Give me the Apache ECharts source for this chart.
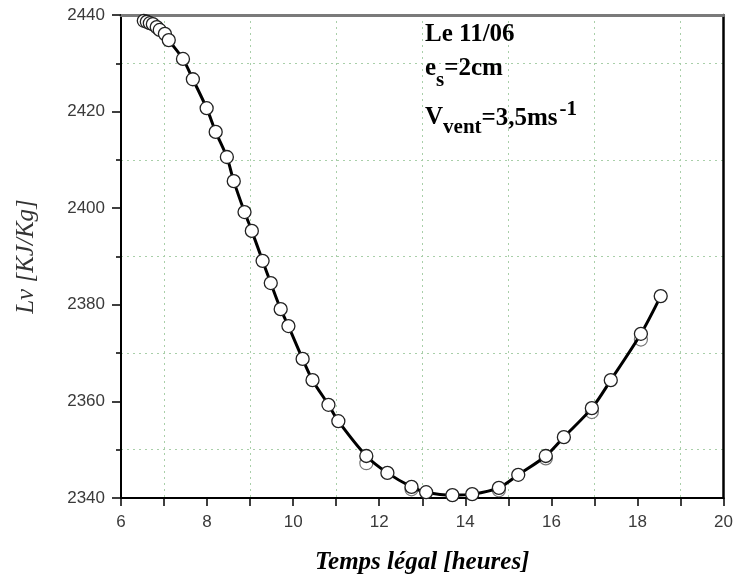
<!DOCTYPE html>
<html>
<head>
<meta charset="utf-8">
<script src="https://cdn.jsdelivr.net/npm/echarts@6/dist/echarts.min.js"></script>
<style>
html,body{margin:0;padding:0;background:#fff;}
#chart{width:736px;height:582px;}
</style>
</head>
<body>
<div id="chart"></div>
<script>
// ---- data ----
const timeHours = [6.53, 6.60, 6.67, 6.74, 6.83, 6.90, 7.02, 7.11, 7.44, 7.67, 7.99, 8.20, 8.46, 8.62, 8.87, 9.04, 9.29, 9.48, 9.71, 9.89, 10.22, 10.45, 10.82, 11.05, 11.70, 12.19, 12.75, 13.09, 13.70, 14.16, 14.78, 15.23, 15.87, 16.29, 16.94, 17.38, 18.08, 18.54];
const lvValues  = [2438.8, 2438.6, 2438.3, 2438.1, 2437.5, 2436.9, 2436.1, 2434.8, 2430.9, 2426.7, 2420.7, 2415.8, 2410.6, 2405.6, 2399.2, 2395.3, 2389.1, 2384.5, 2379.1, 2375.6, 2368.8, 2364.4, 2359.3, 2355.9, 2348.7, 2345.2, 2342.3, 2341.2, 2340.6, 2340.8, 2342.1, 2344.8, 2348.7, 2352.6, 2358.6, 2364.4, 2374.0, 2381.8];
const extraTime = [11.70, 12.75, 14.78, 15.87, 16.94, 18.08];
const extraLv   = [2347.2, 2341.8, 2341.6, 2348.2, 2357.8, 2372.8];
const xTicks = {min: 6, max: 20, step: 2};
const yTicks = {min: 2340, max: 2440, step: 20};
const xTitle = 'Temps légal [heures]';
const yTitle = 'Lv [KJ/Kg]';
const note1 = 'Le 11/06';
const note2 = ['e', 's', '=2cm'];
const note3 = ['V', 'vent', '=3,5ms', '-1'];

const chart = echarts.init(document.getElementById('chart'));
const mainData = timeHours.map((t, i) => [t, lvValues[i]]);
const extraData = extraTime.map((t, i) => [t, extraLv[i]]);

// measure text for annotation layout
const cv = document.createElement('canvas').getContext('2d');
const SERIF = '"Liberation Serif", "DejaVu Serif", serif';
function tw(t, size) { cv.font = 'bold ' + size + 'px ' + SERIF; return cv.measureText(t).width; }
function txt(t, x, baseline, size) {
  return {
    type: 'text', z: 100,
    style: {
      text: t, x: x, y: baseline - 0.34 * size,
      font: 'bold ' + size + 'px ' + SERIF,
      fill: '#000', textAlign: 'left', textVerticalAlign: 'middle'
    }
  };
}
const BIG = 25, SMALL = 21, X0 = 425;
const graphics = [];
graphics.push(txt(note1, X0, 43, BIG));
let cx = X0;
graphics.push(txt(note2[0], cx, 77, BIG)); cx += tw(note2[0], BIG);
graphics.push(txt(note2[1], cx, 88, SMALL)); cx += tw(note2[1], SMALL);
graphics.push(txt(note2[2], cx, 77, BIG));
cx = X0;
graphics.push(txt(note3[0], cx, 126, BIG)); cx += tw(note3[0], BIG);
graphics.push(txt(note3[1], cx, 135, SMALL)); cx += tw(note3[1], SMALL);
graphics.push(txt(note3[2], cx, 127, BIG)); cx += tw(note3[2], BIG) + 2;
graphics.push(txt(note3[3], cx, 117, SMALL));

const gridColor = '#a9cfa9';
const labelStyle = {fontFamily: '"Liberation Sans", Arial, sans-serif', fontSize: 17, color: '#3a3a3a', formatter: v => String(v)};

chart.setOption({
  animation: false,
  backgroundColor: '#fff',
  grid: {left: 121, top: 15, width: 604, height: 483, containLabel: false},
  xAxis: [{
    type: 'value', min: xTicks.min, max: xTicks.max, interval: xTicks.step,
    position: 'bottom',
    axisLine: {show: true, onZero: false, lineStyle: {color: '#000', width: 2}},
    axisTick: {show: true, inside: false, length: 8, lineStyle: {color: '#000', width: 1.5}},
    minorTick: {show: true, splitNumber: 2, length: 8, lineStyle: {color: '#000', width: 1.5}},
    splitLine: {show: false},
    minorSplitLine: {show: true, lineStyle: {color: gridColor, type: [2, 4], width: 1}},
    axisLabel: Object.assign({margin: 16}, labelStyle),
    name: xTitle, nameLocation: 'middle', nameGap: 52,
    nameTextStyle: {fontFamily: SERIF, fontSize: 25, fontWeight: 'bold', fontStyle: 'italic', color: '#000'}
  }, {
    type: 'value', min: xTicks.min, max: xTicks.max, interval: xTicks.step,
    position: 'top',
    axisLine: {show: true, onZero: false, lineStyle: {color: '#7a7a7a', width: 3}},
    axisTick: {show: false}, axisLabel: {show: false}, splitLine: {show: false}
  }],
  yAxis: [{
    type: 'value', min: yTicks.min, max: yTicks.max, interval: yTicks.step,
    position: 'left',
    axisLine: {show: true, onZero: false, lineStyle: {color: '#000', width: 2}},
    axisTick: {show: true, inside: false, length: 9, lineStyle: {color: '#000', width: 1.5}},
    minorTick: {show: true, splitNumber: 2, length: 5, lineStyle: {color: '#000', width: 1.5}},
    splitLine: {show: false},
    minorSplitLine: {show: true, lineStyle: {color: gridColor, type: [2, 4], width: 1}},
    axisLabel: Object.assign({margin: 16}, labelStyle),
    name: yTitle, nameLocation: 'middle', nameGap: 82, nameRotate: 90,
    nameTextStyle: {fontFamily: SERIF, fontSize: 25, fontStyle: 'italic', color: '#333'}
  }, {
    type: 'value', min: yTicks.min, max: yTicks.max, interval: yTicks.step,
    position: 'right',
    axisLine: {show: true, onZero: false, lineStyle: {color: '#000', width: 2.5}},
    axisTick: {show: false}, axisLabel: {show: false}, splitLine: {show: false}
  }],
  series: [{
    type: 'line', xAxisIndex: 0, yAxisIndex: 0,
    data: mainData, smooth: 0.3,
    symbol: 'circle', symbolSize: 13, showAllSymbol: true,
    lineStyle: {color: '#000', width: 3},
    itemStyle: {color: '#fff', borderColor: '#222', borderWidth: 1.3},
    z: 3
  }, {
    type: 'scatter', xAxisIndex: 0, yAxisIndex: 0,
    data: extraData, symbol: 'circle', symbolSize: 13,
    itemStyle: {color: '#fff', borderColor: '#555', borderWidth: 1.2},
    z: 2
  }],
  graphic: graphics
});
</script>
</body>
</html>
